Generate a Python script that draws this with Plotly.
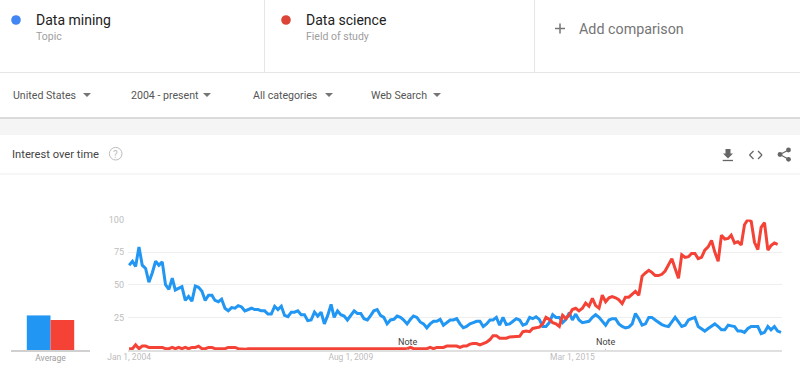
import pandas as pd
import plotly.graph_objects as go

W, H = 800, 368

mining = [65,68,64,79,65,62.5,52,59,68,65,67.5,50,46.5,55,46,47,48.5,38,41,37.5,49,48,45,38,42,42,38,37,39,32,30,32.5,32,34,33,30,31,32,31,31,30,30,27.5,
          27.5,33.5,31,33.5,26.5,25.5,29,29,30,27,27,22.5,23,29,26,29,20,26.5,35,25,30,27,26,23,26.5,30,28,28,24,23,26.5,30,31,26.5,25,20,23,23.5,26,25,23,20,23.5,26,25,21.5,20,17,20,22,22,23.5,19,21,23,23,24,20,17,18,20,21,22,22,18,20,23,23,25,19,25,19.5,20,22,24,23,19,20,
          25,24,25.5,23.5,18,18,21,27,25,25,21,23.5,28.5,23,27.5,23,21,21.5,22,25,27,25,22,19,23,24,24,20,18,17,17.5,20,28,24,19,20,25,25,23,21,19.5,18.5,18,21.5,25,21.5,18,19,23,24,25,18,16,14.5,16.5,18,20,18,15.5,15.5,19,18.5,18,14.5,14.5,13.5,16.5,18,18,18,12.5,13.5,18,15.5,18,14.5,13.5]

science = [1,1,4,1,3,3,2,2,2,2,2,1,1,2,1,2,1,2,1,2,2,3,1,1,2,2,1,1,1,1,2,2,2,1,0.5,0.5,1,1,1,1,1,1,1,
           1,1,1,1,1,1,1,0.5,1,1,1,1,1,1,1,1,1,1,1,1,1,1,1,0.5,0.5,1,1,1,1,1,1,1,1,1,1,1,1,1,1,1,1,1,2,1,1,1,
           1,1,2,1,2,2,2,3,3,3,3,2,3,3,4.5,5,5,4,5,6,8,11,11,9,9,9,10,10,10,10.5,14,
           14.5,14,16.5,17,17.5,20,25,23.5,21,20,18,26.5,24,27,31,32,30,32,36,33.5,39.5,34,32,42,37,40,41,40,38.5,35.5,40.5,40.5,43,45,42,56.5,59,61,59.5,57,57,58,60.5,65,70,62.5,55,73,71,71.5,74,74,70,71,76.5,79,84,75,68,88,85,85.5,88,82,83,80.5,96,100,98.5,82.5,77,94,97.5,76.5,80,82,81]

dates = pd.date_range("2004-01-01", periods=len(mining), freq="MS")

tick_dates = ["2004-01-01", "2009-08-01", "2015-03-01"]
tick_labels = ["Jan 1, 2004", "Aug 1, 2009", "Mar 1, 2015"]
y_ticks = [25, 50, 75, 100]
note_dates = ["2011-01-01", "2016-01-01"]
series_names = ["Data mining", "Data science"]
averages = [26.5, 23]


def X(p):
    return p / W


def Y(p):
    return 1 - p / H


fig = go.Figure()
fig.add_trace(go.Scatter(x=dates, y=mining, mode="lines", name=series_names[0], cliponaxis=False,
                         line=dict(color="#2196F3", width=3)))
fig.add_trace(go.Scatter(x=dates, y=science, mode="lines", name=series_names[1], cliponaxis=False,
                         line=dict(color="#F44336", width=3)))
fig.add_trace(go.Bar(x=["Average"], y=[averages[0]], marker=dict(color="#2196F3", line_width=0),
                     xaxis="x2", yaxis="y2"))
fig.add_trace(go.Bar(x=["Average"], y=[averages[1]], marker=dict(color="#F44336", line_width=0),
                     xaxis="x2", yaxis="y2"))

shapes = []
annos = []


def line(x0, y0, x1, y1, color, w=1, layer="above"):
    shapes.append(dict(type="line", xref="paper", yref="paper", x0=X(x0), y0=Y(y0), x1=X(x1), y1=Y(y1),
                       line=dict(color=color, width=w), layer=layer))


def rect(x0, y0, x1, y1, color):
    shapes.append(dict(type="rect", xref="paper", yref="paper", x0=X(x0), y0=Y(y0), x1=X(x1), y1=Y(y1),
                       fillcolor=color, line_width=0, layer="below"))


def poly(pts, color):
    d = "M" + " L".join(f"{X(a):.5f},{Y(b):.5f}" for a, b in pts) + " Z"
    shapes.append(dict(type="path", xref="paper", yref="paper", path=d, fillcolor=color, line_width=0))


def circle(cx, cy, r, fill=None, stroke=None, w=1):
    shapes.append(dict(type="circle", xref="paper", yref="paper",
                       x0=X(cx - r), x1=X(cx + r), y0=Y(cy + r), y1=Y(cy - r),
                       fillcolor=fill if fill else "rgba(0,0,0,0)",
                       line=dict(color=stroke if stroke else "rgba(0,0,0,0)", width=w if stroke else 0)))


def text(x, y, s, size, color, anchor="left", font="Roboto"):
    annos.append(dict(xref="paper", yref="paper", x=X(x), y=Y(y), text=s, showarrow=False, xanchor=anchor,
                      yanchor="middle", xshift=0, font=dict(family=font, size=size, color=color),
                      borderpad=0, borderwidth=0))


# header: search terms
circle(16, 20, 4.8, fill="#4285F4")
circle(286, 20, 4.8, fill="#DB4437")
text(36, 20, series_names[0], 14, "#212121")
text(36, 36.5, "Topic", 10.5, "#9E9E9E")
text(306, 20, series_names[1], 14, "#212121")
text(306, 36.5, "Field of study", 10.5, "#9E9E9E")
line(264.5, 0, 264.5, 72, "#E6E6E6")
line(534.5, 0, 534.5, 72, "#E6E6E6")
line(0, 72.5, 800, 72.5, "#E6E6E6")
line(555, 28.5, 565, 28.5, "#757575", 1.5)
line(560, 23.5, 560, 33.5, "#757575", 1.5)
text(579, 29, "Add comparison", 14.3, "#757575")

# filters
for lx, tx, s in [(12.5, 87, "United States"), (130.5, 207, "2004 - present"),
                  (252.5, 329, "All categories"), (371, 437, "Web Search")]:
    text(lx, 95, s, 10.6, "#555555")
    poly([(tx - 4, 93), (tx + 4, 93), (tx, 97)], "#757575")

rect(0, 118, 800, 135, "#F5F5F5")
line(0, 118, 800, 118, "#D0D0D0", 1.5)

# card header
text(11.5, 154.5, "Interest over time", 11.2, "#444444")
circle(115.7, 153.7, 6.3, stroke="#BDBDBD", w=1)
text(115.7, 154, "?", 10, "#BDBDBD", anchor="center")
line(0, 174, 800, 174, "#EEEEEE")

# icons
poly([(725.5, 149), (730.5, 149), (730.5, 153.5), (733, 153.5), (728, 158.5), (723, 153.5), (725.5, 153.5)], "#666666")
line(722.7, 160.5, 733, 160.5, "#666666", 1.3)
line(753.5, 151, 749.5, 155, "#666666", 1.2)
line(749.5, 155, 753.5, 159, "#666666", 1.2)
line(758, 151, 762, 155, "#666666", 1.2)
line(762, 155, 758, 159, "#666666", 1.2)
line(780, 154.5, 788.5, 150, "#666666", 1.2)
line(780, 154.5, 788.5, 159.3, "#666666", 1.2)
circle(780, 154.5, 2.4, fill="#666666")
circle(788.5, 150, 2.4, fill="#666666")
circle(788.5, 159.3, 2.4, fill="#666666")

# notes on the time axis
for d in note_dates:
    annos.append(dict(xref="x", yref="y", x=d, y=6, text="Note", showarrow=False, yanchor="middle",
                      font=dict(family="Roboto", size=9, color="#424242")))
    shapes.append(dict(type="line", xref="x", yref="y", x0=d, x1=d, y0=-0.8, y1=1,
                       line=dict(color="#BDBDBD", width=1)))

fig.update_layout(
    width=W, height=H, autosize=False,
    margin=dict(l=0, r=0, t=0, b=0, pad=0, autoexpand=False),
    paper_bgcolor="white", plot_bgcolor="white",
    showlegend=False, barmode="group", bargap=0.4, bargroupgap=0,
    shapes=shapes, annotations=annos,
    xaxis=dict(type="date", domain=[X(128), X(782)], range=["2003-12-22", "2020-06-10"], automargin=False,
               tickmode="array", tickvals=tick_dates, ticktext=tick_labels, showgrid=False, zeroline=False,
               showline=True, linecolor="#E0E0E0", linewidth=2, ticks="", ticklabeloverflow="allow",
               ticklabelstandoff=-2,
               tickfont=dict(family="Roboto", size=8.5, color="#BDBDBD"), anchor="y"),
    yaxis=dict(domain=[Y(350), Y(219.5)], range=[0, 100], tickmode="array", tickvals=y_ticks, automargin=False,
               gridcolor="#EEEEEE", gridwidth=1, zeroline=False, showline=False, ticks="",
               ticklabelstandoff=3,
               tickfont=dict(family="Roboto", size=9, color="#BDBDBD"), anchor="x"),
    xaxis2=dict(domain=[X(11), X(90)], type="category", showgrid=False, zeroline=False, showline=True, automargin=False,
                linecolor="#D0D0D0", linewidth=2, ticks="", anchor="y2", ticklabelstandoff=-1,
                tickfont=dict(family="Roboto", size=8.5, color="#9E9E9E")),
    yaxis2=dict(domain=[Y(350), Y(219.5)], range=[0, 100], visible=False, anchor="x2", automargin=False),
)

fig.write_html("out.html", config={"displayModeBar": False},
               post_script="document.body.style.margin='0';document.documentElement.style.overflow='hidden';")
